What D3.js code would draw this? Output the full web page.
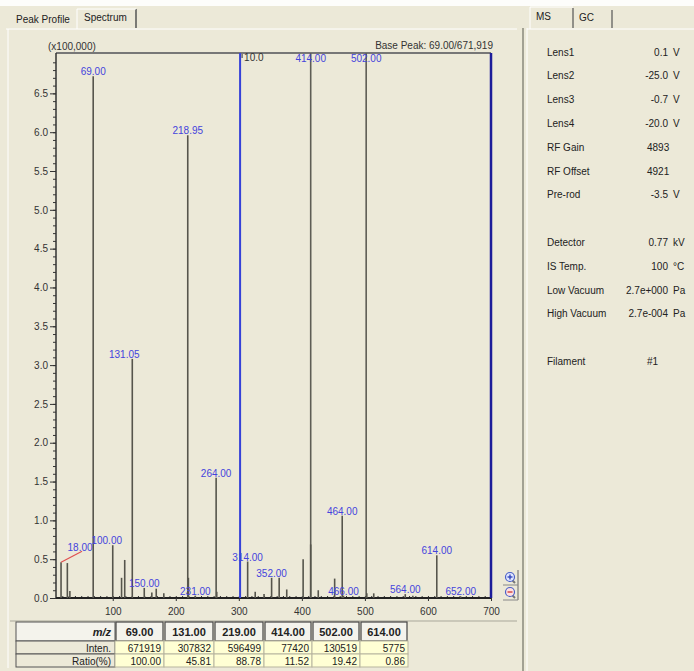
<!DOCTYPE html>
<html>
<head>
<meta charset="utf-8">
<script src="https://cdn.jsdelivr.net/npm/d3@7"></script>
<style>
  body { margin: 0; background: #ece9d8; }
  svg { display: block; font-family: "Liberation Sans", Arial, sans-serif; }
</style>
</head>
<body>
<svg></svg>
<script>
// spectrum peaks, intensity in units of 100,000
const peakMz  = [18, 28, 32, 69, 100, 114, 119, 131, 150, 162, 169, 181, 219, 220, 231, 264, 265,
                 314, 326, 340, 352, 364, 376, 402, 414, 426, 452, 464, 466, 503, 514, 564, 576, 614, 652]
const peakInt = [0.46, 0.45, 0.09, 6.72, 0.68, 0.26, 0.49, 3.08, 0.13, 0.07, 0.12, 0.06, 5.96, 0.26, 0.03, 1.55, 0.08,
                 0.47, 0.08, 0.05, 0.26, 0.26, 0.11, 0.50, 0.69, 0.10, 0.25, 1.06, 0.03, 0.06, 0.06, 0.05, 0.03, 0.55, 0.02]

// labelled peaks
const labelMz   = [18, 69, 100, 131, 150, 219, 231, 264, 314, 352, 464, 466, 564, 614, 652]
const labelText = ["18.00", "69.00", "100.00", "131.05", "150.00", "218.95", "231.00", "264.00",
                   "314.00", "352.00", "464.00", "466.00", "564.00", "614.00", "652.00"]

// marker lines across the full height
const markerMz   = [414, 502]
const markerText = ["414.00", "502.00"]
const cursorMz = [302, 700]

const yTicks = [0, 0.5, 1, 1.5, 2, 2.5, 3, 3.5, 4, 4.5, 5, 5.5, 6, 6.5]
const xTicks = [100, 200, 300, 400, 500, 600, 700]

// table under the chart
const tableMz    = ["69.00", "131.00", "219.00", "414.00", "502.00", "614.00"]
const tableInten = ["671919", "307832", "596499", "77420", "130519", "5775"]
const tableRatio = ["100.00", "45.81", "88.78", "11.52", "19.42", "0.86"]

// right panel
const msNames  = ["Lens1", "Lens2", "Lens3", "Lens4", "RF Gain", "RF Offset", "Pre-rod", null,
                  "Detector", "IS Temp.", "Low Vacuum", "High Vacuum", null, "Filament"]
const msValues = ["0.1", "-25.0", "-0.7", "-20.0", "4893", "4921", "-3.5", null,
                  "0.77", "100", "2.7e+000", "2.7e-004", null, "#1"]
const msUnits  = ["V", "V", "V", "V", "", "", "V", null, "kV", "°C", "Pa", "Pa", null, ""]

const svg = d3.select("svg")
svg.attr("width", 694).attr("height", 671)

const bg = "#ece9d8"
svg.append("rect").attr("width", 694).attr("height", 671).attr("fill", bg)
svg.append("rect").attr("width", 694).attr("height", 6).attr("fill", "#fdfdfb")

// ---- tabs / panel frames ----
const frame = svg.append("g")
frame.append("line").attr("x1", 6).attr("x2", 517).attr("y1", 29).attr("y2", 29).attr("stroke", "#fff")
frame.append("line").attr("x1", 8).attr("x2", 8).attr("y1", 29).attr("y2", 668).attr("stroke", "#fff")
frame.append("line").attr("x1", 136).attr("x2", 136).attr("y1", 9).attr("y2", 28).attr("stroke", "#555").attr("stroke-width", 1.5)
frame.append("line").attr("x1", 77).attr("x2", 77).attr("y1", 9).attr("y2", 29).attr("stroke", "#fff")
frame.append("line").attr("x1", 77).attr("x2", 136).attr("y1", 9).attr("y2", 9).attr("stroke", "#fff")
frame.append("text").attr("x", 16).attr("y", 23).attr("font-size", 10).attr("fill", "#222").text("Peak Profile")
frame.append("text").attr("x", 84).attr("y", 21).attr("font-size", 10).attr("fill", "#222").text("Spectrum")
frame.append("line").attr("x1", 10).attr("x2", 517).attr("y1", 621).attr("y2", 621).attr("stroke", "#a9a79a")
frame.append("line").attr("x1", 523).attr("x2", 523).attr("y1", 28).attr("y2", 671).attr("stroke", "#8a887c").attr("stroke-width", 1.5)
frame.append("line").attr("x1", 527).attr("x2", 527).attr("y1", 28).attr("y2", 671).attr("stroke", "#fff")
frame.append("line").attr("x1", 527).attr("x2", 694).attr("y1", 29).attr("y2", 29).attr("stroke", "#fff")
frame.append("line").attr("x1", 530).attr("x2", 530).attr("y1", 7).attr("y2", 29).attr("stroke", "#fff")
frame.append("line").attr("x1", 530).attr("x2", 573).attr("y1", 7).attr("y2", 7).attr("stroke", "#fff")
frame.append("line").attr("x1", 573).attr("x2", 573).attr("y1", 8).attr("y2", 28).attr("stroke", "#555").attr("stroke-width", 1.2)
frame.append("line").attr("x1", 612).attr("x2", 612).attr("y1", 10).attr("y2", 28).attr("stroke", "#555").attr("stroke-width", 1.2)
frame.append("text").attr("x", 536).attr("y", 20).attr("font-size", 10).attr("fill", "#222").text("MS")
frame.append("text").attr("x", 579).attr("y", 21).attr("font-size", 10).attr("fill", "#222").text("GC")

// ---- chart ----
const scaleX = d3.scaleLinear().domain([10, 700]).range([56, 491])
const scaleY = d3.scaleLinear().domain([0, 7.02]).range([598, 53])

const chart = svg.append("g")

chart.append("line")
  .attr("x1", 56).attr("x2", 491).attr("y1", 53).attr("y2", 53)
  .attr("stroke", "#777").attr("stroke-width", 2)

chart.append("text").attr("x", 48).attr("y", 50).attr("font-size", 10).attr("fill", "#333").text("(x100,000)")
chart.append("text").attr("x", 493).attr("y", 49).attr("font-size", 10).attr("fill", "#333")
  .attr("text-anchor", "end").text("Base Peak: 69.00/671,919")

// y axis, minor then major
chart.append("g")
  .attr("transform", "translate(56,0)")
  .call(d3.axisLeft(scaleY).tickValues(d3.range(0, 70).map(d => d / 10)).tickSize(3).tickFormat(""))
  .call(g => g.select(".domain").remove())
  .selectAll("line").attr("stroke", "#333")

const yAxis = chart.append("g")
  .attr("transform", "translate(56,0)")
  .call(d3.axisLeft(scaleY).tickValues(yTicks).tickSize(6).tickPadding(2).tickFormat(d3.format(".1f")))
yAxis.select(".domain").attr("d", "M0,53V598").attr("stroke", "#333").attr("stroke-width", 1.5)
yAxis.selectAll("line").attr("stroke", "#333")
yAxis.selectAll("text").attr("font-size", 10).attr("fill", "#333")
  .attr("font-family", "\"Liberation Sans\", Arial, sans-serif")

// x axis
chart.append("g")
  .attr("transform", "translate(0,598)")
  .call(d3.axisTop(scaleX).tickValues(d3.range(20, 700, 10)).tickSize(2).tickFormat(""))
  .call(g => g.select(".domain").remove())
  .selectAll("line").attr("stroke", "#333")

const xAxis = chart.append("g")
  .attr("transform", "translate(0,598)")
  .call(d3.axisBottom(scaleX).tickValues(xTicks).tickSize(3).tickPadding(7))
xAxis.select(".domain").attr("d", "M56,0H491").attr("stroke", "#222").attr("stroke-width", 2)
xAxis.selectAll("line").attr("stroke", "#333")
xAxis.selectAll("text").attr("font-size", 10).attr("fill", "#333")
  .attr("font-family", "\"Liberation Sans\", Arial, sans-serif")

// marker lines at the top
chart.selectAll("line.marker")
  .data(markerMz)
  .enter()
  .append("line")
  .attr("class", "marker")
  .attr("x1", d => scaleX(d)).attr("x2", d => scaleX(d))
  .attr("y1", 53).attr("y2", 598)
  .attr("stroke", "#5e5d55").attr("stroke-width", 1.6)

chart.selectAll("text.marker")
  .data(markerMz)
  .enter()
  .append("text")
  .attr("class", "marker")
  .attr("x", d => scaleX(d)).attr("y", 62)
  .attr("text-anchor", "middle").attr("font-size", 10).attr("fill", "#4444dd")
  .text((d, i) => markerText[i])

// peaks
chart.selectAll("line.peak")
  .data(peakMz)
  .enter()
  .append("line")
  .attr("class", "peak")
  .attr("x1", d => scaleX(d)).attr("x2", d => scaleX(d))
  .attr("y1", scaleY(0))
  .attr("y2", (d, i) => scaleY(peakInt[i]))
  .attr("stroke", "#56554c").attr("stroke-width", 1.6)

// cursor lines
chart.selectAll("line.cursor")
  .data(cursorMz)
  .enter()
  .append("line")
  .attr("class", "cursor")
  .attr("x1", d => scaleX(d)).attr("x2", d => scaleX(d))
  .attr("y1", 53).attr("y2", 598)
  .attr("stroke", (d, i) => i === 0 ? "#3542d8" : "#1d1d9a")
  .attr("stroke-width", (d, i) => i === 0 ? 2 : 2.5)
chart.append("line")
  .attr("x1", scaleX(cursorMz[0]) + 2).attr("x2", scaleX(cursorMz[0]) + 2)
  .attr("y1", 54).attr("y2", 58).attr("stroke", "#333")
chart.append("text").attr("x", scaleX(cursorMz[0]) + 4).attr("y", 61)
  .attr("font-size", 10).attr("fill", "#333").text("10.0")

// peak labels
const labelShift = { 18: 19, 100: -6, 131: -8 }
const labelLift = { 18: 10 }
chart.selectAll("text.peak")
  .data(labelMz)
  .enter()
  .append("text")
  .attr("class", "peak")
  .attr("x", d => scaleX(d) + (labelShift[d] || 0))
  .attr("y", d => scaleY(peakInt[peakMz.indexOf(d)]) - 1 - (labelLift[d] || 0))
  .attr("text-anchor", "middle")
  .attr("font-size", 10)
  .attr("fill", "#4444dd")
  .text((d, i) => labelText[i])

// leader for the 18.00 label
chart.append("line")
  .attr("x1", scaleX(18)).attr("y1", scaleY(peakInt[0]))
  .attr("x2", scaleX(18) + 21).attr("y2", scaleY(peakInt[0]) - 11)
  .attr("stroke", "#e05050").attr("stroke-width", 1.2)

// zoom buttons
const zoomG = chart.append("g")
zoomG.append("line").attr("x1", 518).attr("x2", 518).attr("y1", 570).attr("y2", 600).attr("stroke", "#666")
zoomG.append("line").attr("x1", 503).attr("x2", 518).attr("y1", 585).attr("y2", 585).attr("stroke", "#888")
zoomG.append("line").attr("x1", 503).attr("x2", 518).attr("y1", 600).attr("y2", 600).attr("stroke", "#888")
;[577, 592].forEach((cy, i) => {
  zoomG.append("line").attr("x1", 512).attr("y1", cy + 3).attr("x2", 515).attr("y2", cy + 6)
    .attr("stroke", "#777").attr("stroke-width", 2)
  zoomG.append("circle").attr("cx", 510).attr("cy", cy).attr("r", 4.5)
    .attr("fill", i === 0 ? "#dfe6ff" : "#ffe0e0").attr("stroke", "#4a5fc8").attr("stroke-width", 1.2)
  zoomG.append("line").attr("x1", 507.5).attr("x2", 512.5).attr("y1", cy).attr("y2", cy)
    .attr("stroke", i === 0 ? "#2a3fb8" : "#c33").attr("stroke-width", 1.3)
  if (i === 0) {
    zoomG.append("line").attr("x1", 510).attr("x2", 510).attr("y1", cy - 2.5).attr("y2", cy + 2.5)
      .attr("stroke", "#2a3fb8").attr("stroke-width", 1.3)
  }
})

// ---- table ----
const colX = [16, 115, 164, 214, 264, 312, 360, 408]
const rowY = [622, 641, 654, 667]
const table = svg.append("g")

const rows = [
  { label: "m/z", cells: tableMz },
  { label: "Inten.", cells: tableInten },
  { label: "Ratio(%)", cells: tableRatio }
]

rows.forEach((row, r) => {
  const y0 = rowY[r], y1 = rowY[r + 1]
  // row label cell
  table.append("rect").attr("x", colX[0]).attr("y", y0).attr("width", colX[1] - colX[0]).attr("height", y1 - y0)
    .attr("fill", r === 0 ? "#f4f3ec" : bg).attr("stroke", "#555").attr("stroke-width", 1)
  table.append("text").attr("x", colX[1] - 4).attr("y", y0 + (y1 - y0) / 2 + 4)
    .attr("text-anchor", "end")
    .attr("font-size", r === 0 ? 11 : 10)
    .attr("font-weight", r === 0 ? "bold" : "normal")
    .attr("font-style", r === 0 ? "italic" : "normal")
    .attr("fill", "#222")
    .text(row.label)
  row.cells.forEach((c, j) => {
    const x0 = colX[j + 1], x1 = colX[j + 2]
    table.append("rect").attr("x", x0 + (r === 0 ? 1 : 0)).attr("y", y0).attr("width", x1 - x0 - (r === 0 ? 2 : 0)).attr("height", y1 - y0)
      .attr("fill", r === 0 ? "#f4f3ec" : "#ffffd4")
      .attr("stroke", r === 0 ? "#444" : "#b7b59f").attr("stroke-width", r === 0 ? 1.2 : 1)
    table.append("text")
      .attr("x", r === 0 ? (x0 + x1) / 2 : x1 - 3)
      .attr("y", y0 + (y1 - y0) / 2 + 4)
      .attr("text-anchor", r === 0 ? "middle" : "end")
      .attr("font-size", r === 0 ? 11 : 10)
      .attr("font-weight", r === 0 ? "bold" : "normal")
      .attr("fill", "#222")
      .text(c)
  })
})

// ---- right panel ----
const panel = svg.append("g")
msNames.forEach((name, i) => {
  if (name === null) return
  const y = 52 + i * 23.8 + 3.5
  panel.append("text").attr("x", 547).attr("y", y).attr("font-size", 10).attr("fill", "#222").text(name)
  panel.append("text").attr("x", 668).attr("y", y).attr("font-size", 10).attr("fill", "#222")
    .attr("text-anchor", msUnits[i] ? "end" : "start")
    .attr("dx", msUnits[i] ? 0 : -21)
    .text(msValues[i])
  if (msUnits[i]) {
    panel.append("text").attr("x", 673).attr("y", y).attr("font-size", 10).attr("fill", "#222").text(msUnits[i])
  }
})
</script>
</body>
</html>
